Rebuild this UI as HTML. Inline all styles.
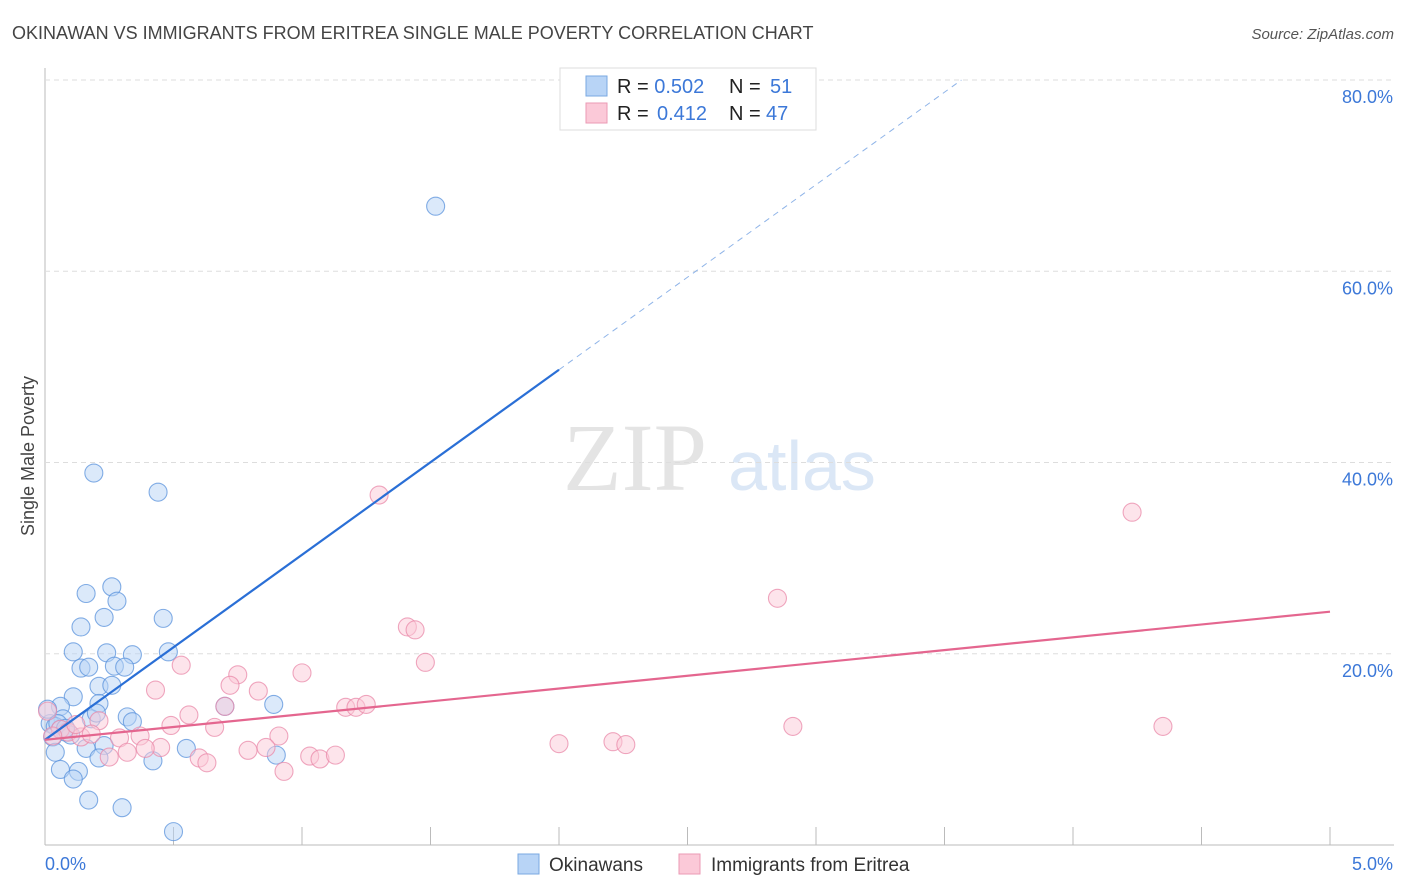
<!DOCTYPE html>
<html><head><meta charset="utf-8"><style>
body{margin:0;background:#fff;font-family:"Liberation Sans",sans-serif;}
svg{display:block}
</style></head><body>
<svg id="chart" width="1406" height="892">
<text x="12" y="39" font-size="18" fill="#444">OKINAWAN VS IMMIGRANTS FROM ERITREA SINGLE MALE POVERTY CORRELATION CHART</text>
<text x="1394" y="39" font-size="15" fill="#555" font-style="italic" text-anchor="end">Source: ZipAtlas.com</text>
<text x="34" y="456" font-size="18" fill="#444" text-anchor="middle" transform="rotate(-90 34 456)">Single Male Poverty</text>
<g>
<text x="635" y="490" font-size="96" fill="#e4e4e4" font-family="Liberation Serif,serif" text-anchor="middle">ZIP</text>
<text x="802" y="490" font-size="70" fill="#dbe7f6" text-anchor="middle">atlas</text></g>
<g id="grid"></g><g id="marks"></g>
<g>
<rect x="560" y="68" width="256" height="62" fill="#fff" stroke="#ddd"/>
<rect x="586" y="76" width="21" height="20" fill="#b8d4f6" stroke="#7aa8e2"/>
<rect x="586" y="103" width="21" height="20" fill="#fbc9d8" stroke="#eb9ab4"/>
<text x="617" y="93" font-size="20" fill="#222">R = <tspan fill="#3c78d8">0.502</tspan><tspan x="729">N = </tspan><tspan x="770" fill="#3c78d8">51</tspan></text>
<text x="617" y="120" font-size="20" fill="#222">R = <tspan x="657" fill="#3c78d8">0.412</tspan><tspan x="729">N = </tspan><tspan x="766" fill="#3c78d8">47</tspan></text>
</g>
<g>
<rect x="518" y="854" width="21" height="20" fill="#b8d4f6" stroke="#7aa8e2"/>
<text x="549" y="871" font-size="19" fill="#333">Okinawans</text>
<rect x="679" y="854" width="21" height="20" fill="#fbc9d8" stroke="#eb9ab4"/>
<text x="711" y="871" font-size="19" fill="#333">Immigrants from Eritrea</text>
</g>
</svg>
<script>
const yTicks=[20,40,60,80];
const xTickLabels=["0.0%","5.0%"];
const blueX=[1.52,0.19,0.44,0.26,0.16,0.28,0.23,0.46,0.14,0.11,0.24,0.34,0.48,0.14,0.17,0.27,0.31,0.21,0.26,0.11,0.21,0.70,0.89,0.06,0.32,0.18,0.34,0.07,0.02,0.04,0.06,0.08,0.10,0.03,0.55,0.23,0.16,0.21,0.42,0.90,0.04,0.06,0.13,0.11,0.17,0.30,0.50,0.05,0.01,0.08,0.20];
const blueY=[66.8,38.9,36.9,27.0,26.3,25.5,23.8,23.7,22.8,20.2,20.1,19.9,20.2,18.5,18.6,18.7,18.6,16.6,16.7,15.5,14.8,14.5,14.7,14.5,13.4,13.2,12.9,13.2,12.7,12.4,12.1,11.8,11.5,11.3,10.1,10.4,10.1,9.1,8.8,9.4,9.7,7.9,7.7,6.9,4.7,3.9,1.4,12.7,14.2,12.2,13.8];
const pinkX=[1.30,4.23,2.85,1.41,1.44,1.48,0.53,1.00,0.75,0.43,0.72,0.83,0.56,0.70,1.17,1.21,1.25,0.49,0.66,0.91,0.29,0.37,0.21,2.91,4.35,2.00,2.21,2.26,0.45,0.39,0.32,0.86,0.79,1.03,1.07,1.13,0.60,0.63,0.25,0.93,0.01,0.06,0.09,0.14,0.18,0.03,0.12];
const pinkY=[36.6,34.8,25.8,22.8,22.5,19.1,18.8,18.0,17.8,16.2,16.7,16.1,13.6,14.5,14.4,14.4,14.7,12.5,12.3,11.4,11.2,11.4,13.0,12.4,12.4,10.6,10.8,10.5,10.2,10.1,9.7,10.2,9.9,9.3,9.0,9.4,9.1,8.6,9.2,7.7,14.0,12.1,11.8,11.3,11.6,11.4,12.6];
const blueLine=[11.0,19.35];
const pinkLine=[11.0,2.68];
const X=v=>45+v*257, Y=v=>845-v*9.5625;
const NS="http://www.w3.org/2000/svg";
function mk(p,t,a){const e=document.createElementNS(NS,t);for(const k in a)e.setAttribute(k,a[k]);p.appendChild(e);return e;}
const g=document.getElementById('grid'), m=document.getElementById('marks');
let ax=mk(g,'line',{x1:45,y1:68,x2:45,y2:845,stroke:'#bbb'});


let bx=mk(g,'line',{x1:45,y1:845,x2:1394,y2:845,stroke:'#bbb'});


yTicks.forEach(t=>{
 let l=mk(g,'line',{x1:45,y1:Y(t),x2:1394,y2:Y(t),stroke:'#ddd','stroke-dasharray':'5,4'});
 
 
 let tx=mk(g,'text',{x:1393,y:Y(t)+23,'font-size':18,fill:'#3c78d8','text-anchor':'end'});tx.textContent=t.toFixed(1)+'%';
 
 
});
for(let i=1;i<=10;i++){let l=mk(g,'line',{x1:X(i*0.5),y1:827,x2:X(i*0.5),y2:845,stroke:'#bbb'});
 
 }
let t0=mk(g,'text',{x:45,y:870,'font-size':18,fill:'#3c78d8'});t0.textContent=xTickLabels[0];


let t1=mk(g,'text',{x:1393,y:870,'font-size':18,fill:'#3c78d8','text-anchor':'end'});t1.textContent=xTickLabels[1];


function dots(xs,ys,fill,stroke,name){xs.forEach((x,i)=>{let c=mk(m,'circle',{cx:X(x),cy:Y(ys[i]),r:9,fill:fill,'fill-opacity':0.5,stroke:stroke,'stroke-width':1.1,'stroke-opacity':0.75});
 
 });}
dots(blueX,blueY,'#b8d4f6','#5b93dc','okinawan-point');
dots(pinkX,pinkY,'#fbc9d8','#e98aa9','eritrea-point');
const xEnd=(80-blueLine[0])/blueLine[1];
let bl=mk(m,'line',{x1:X(0),y1:Y(blueLine[0]),x2:X(2),y2:Y(blueLine[0]+2*blueLine[1]),stroke:'#2a6fd6','stroke-width':2.2});


let bd=mk(m,'line',{x1:X(2),y1:Y(blueLine[0]+2*blueLine[1]),x2:X(xEnd),y2:Y(80),stroke:'#8fb4e8','stroke-width':1,'stroke-dasharray':'6,5'});


let pl=mk(m,'line',{x1:X(0),y1:Y(pinkLine[0]),x2:X(5),y2:Y(pinkLine[0]+5*pinkLine[1]),stroke:'#e4668f','stroke-width':2.2});


</script>
</body></html>
